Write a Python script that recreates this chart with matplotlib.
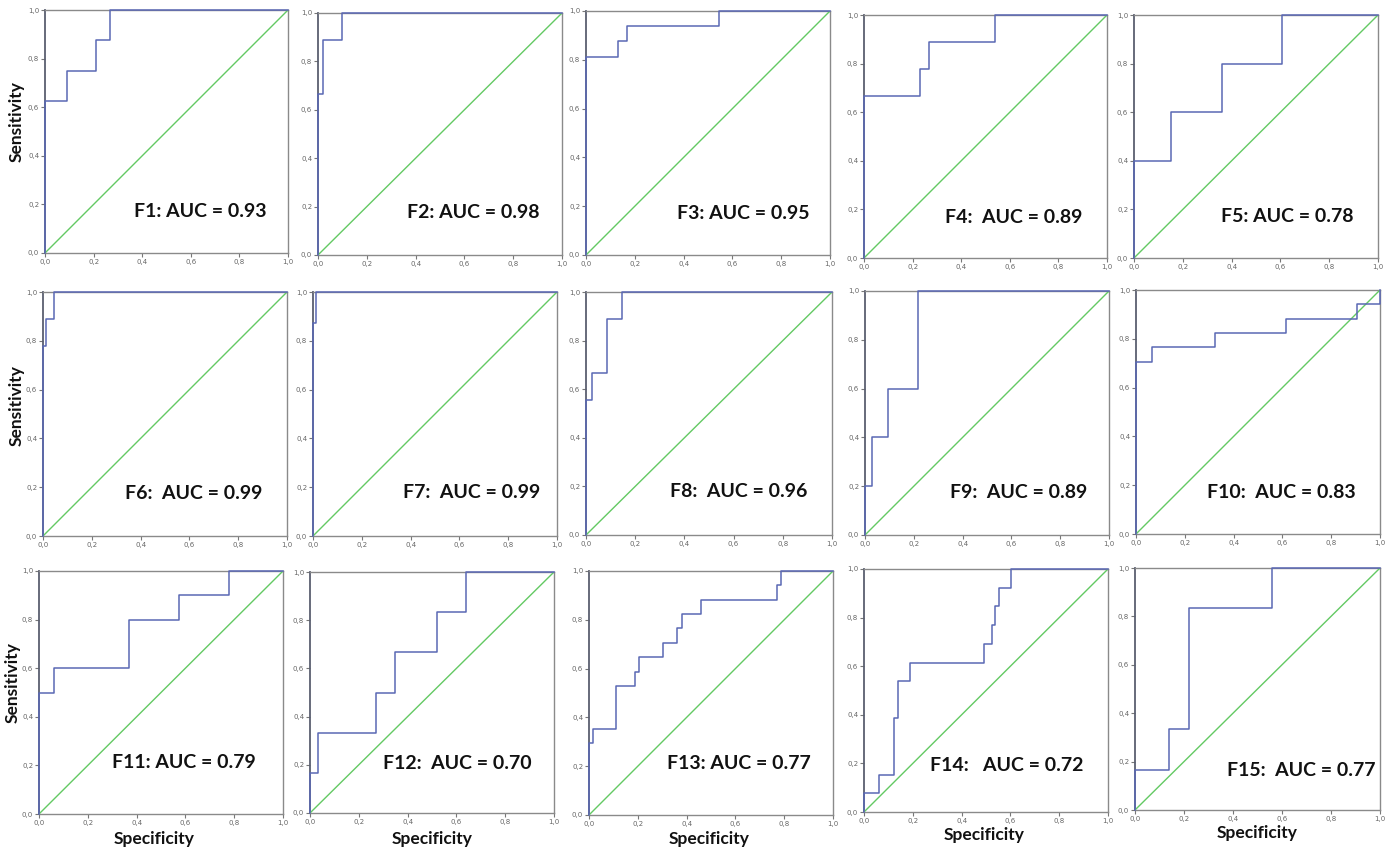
import matplotlib
matplotlib.use("Agg")
import matplotlib.pyplot as plt

W, H = 1389, 852

# ROC step data: x = 1-specificity where the curve steps up, y = sensitivity level after each step
f1_x = [0.0, 0.09, 0.208, 0.267]
f1_y = [0.625, 0.75, 0.875, 1.0]
f2_x = [0.0, 0.019, 0.10]
f2_y = [0.667, 0.889, 1.0]
f3_x = [0.0, 0.132, 0.167, 0.545]
f3_y = [0.8125, 0.875, 0.9375, 1.0]
f4_x = [0.0, 0.23, 0.269, 0.539]
f4_y = [0.667, 0.778, 0.889, 1.0]
f5_x = [0.0, 0.15, 0.362, 0.605]
f5_y = [0.4, 0.6, 0.8, 1.0]
f6_x = [0.0, 0.012, 0.045]
f6_y = [0.778, 0.889, 1.0]
f7_x = [0.0, 0.014]
f7_y = [0.875, 1.0]
f8_x = [0.0, 0.026, 0.084, 0.145]
f8_y = [0.556, 0.667, 0.889, 1.0]
f9_x = [0.0, 0.03, 0.095, 0.218]
f9_y = [0.2, 0.4, 0.6, 1.0]
f10_x = [0.0, 0.064, 0.324, 0.613, 0.904, 1.0]
f10_y = [0.706, 0.765, 0.824, 0.882, 0.941, 1.0]
f11_x = [0.0, 0.061, 0.369, 0.574, 0.779]
f11_y = [0.5, 0.6, 0.8, 0.9, 1.0]
f12_x = [0.0, 0.033, 0.27, 0.35, 0.52, 0.64]
f12_y = [0.167, 0.333, 0.5, 0.667, 0.833, 1.0]
f13_x = [0.0, 0.015, 0.11, 0.189, 0.206, 0.305, 0.362, 0.382, 0.459, 0.769, 0.786]
f13_y = [0.294, 0.353, 0.529, 0.588, 0.647, 0.706, 0.765, 0.824, 0.882, 0.941, 1.0]
f14_x = [0.0, 0.063, 0.124, 0.141, 0.189, 0.492, 0.523, 0.537, 0.553, 0.602]
f14_y = [0.077, 0.154, 0.385, 0.538, 0.615, 0.692, 0.769, 0.846, 0.923, 1.0]
f15_x = [0.0, 0.14, 0.22, 0.56]
f15_y = [0.167, 0.333, 0.833, 1.0]

labels = ["F1: AUC = 0.93", "F2: AUC = 0.98", "F3: AUC = 0.95", "F4:  AUC = 0.89",
          "F5: AUC = 0.78", "F6:  AUC = 0.99", "F7:  AUC = 0.99", "F8:  AUC = 0.96",
          "F9:  AUC = 0.89", "F10:  AUC = 0.83", "F11: AUC = 0.79", "F12:  AUC = 0.70",
          "F13: AUC = 0.77", "F14:   AUC = 0.72", "F15:  AUC = 0.77"]
ticks = [0.0, 0.2, 0.4, 0.6, 0.8, 1.0]
tick_labels = ["0,0", "0,2", "0,4", "0,6", "0,8", "1,0"]

curves = [(f1_x, f1_y), (f2_x, f2_y), (f3_x, f3_y), (f4_x, f4_y), (f5_x, f5_y),
          (f6_x, f6_y), (f7_x, f7_y), (f8_x, f8_y), (f9_x, f9_y), (f10_x, f10_y),
          (f11_x, f11_y), (f12_x, f12_y), (f13_x, f13_y), (f14_x, f14_y), (f15_x, f15_y)]

# axes boxes in pixels: left, right, top, bottom
boxes = [(45, 288, 10, 253), (318, 562, 13, 255), (586, 830, 11, 255), (864, 1107, 15, 258), (1134, 1378, 15, 258),
         (43, 287, 292, 536), (313, 557, 292, 536), (586, 832, 292, 535), (865, 1109, 291, 535), (1136, 1380, 290, 534),
         (39, 283, 571, 814), (310, 554, 572, 813), (589, 833, 571, 815), (864, 1108, 569, 812), (1135, 1380, 568, 810)]
# AUC text anchor (right edge, vertical centre) in axes fraction
text_pos = [(0.91, 0.17), (0.906, 0.174), (0.914, 0.17), (0.90, 0.165), (0.90, 0.17),
            (0.90, 0.176), (0.93, 0.18), (0.90, 0.177), (0.91, 0.173), (0.90, 0.172),
            (0.89, 0.21), (0.91, 0.207), (0.91, 0.213), (0.90, 0.193), (0.98, 0.165)]

BLUE = "#5a68b4"
GREEN = "#63c963"
FONT = "Lato"

fig = plt.figure(figsize=(W / 100, H / 100), dpi=100)

for i, (xs, ys) in enumerate(curves):
    l, r, t, b = boxes[i]
    ax = fig.add_axes([l / W, 1 - b / H, (r - l) / W, (b - t) / H])
    ax.plot([0, 1], [0, 1], color=GREEN, lw=1.0, zorder=3)
    ax.step([0] + xs + [1], [0] + ys + [ys[-1]], where="post", color=BLUE, lw=1.1,
            zorder=4, clip_on=False)
    ax.set_xlim(0, 1)
    ax.set_ylim(0, 1)
    ax.set_xticks(ticks)
    ax.set_yticks(ticks)
    ax.set_xticklabels(tick_labels)
    ax.set_yticklabels(tick_labels)
    ax.tick_params(length=3, width=0.8, color="#777777", labelsize=5, labelcolor="#666666", pad=1.2)
    for s in ax.spines.values():
        s.set_color("#8a8a8a")
        s.set_linewidth(1.0)
    ax.spines["left"].set_color("#5a5f70")
    ax.spines["left"].set_linewidth(1.3)
    tx, ty = text_pos[i]
    ax.text(tx, ty, labels[i], transform=ax.transAxes, ha="right", va="center",
            fontsize=14, fontweight="bold", family=FONT, color="#111111")

# axis titles
for xc, yc in [(17, 122), (17, 406), (13, 683)]:
    fig.text(xc / W, 1 - yc / H, "Sensitivity", rotation=90, ha="center", va="center",
             fontsize=12.5, fontweight="bold", family=FONT, color="#111111")
for xc, yc in [(154, 839), (432, 839), (709, 839), (984, 835), (1257, 833)]:
    fig.text(xc / W, 1 - yc / H, "Specificity", ha="center", va="center",
             fontsize=12.5, fontweight="bold", family=FONT, color="#111111")

plt.savefig("out.png", dpi=100)
